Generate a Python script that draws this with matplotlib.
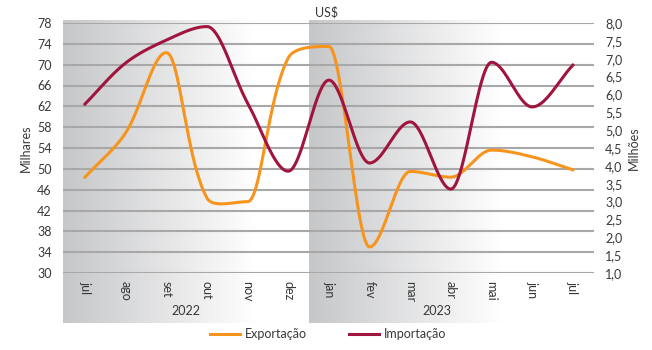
import numpy as np
import matplotlib
matplotlib.use("Agg")
import matplotlib.pyplot as plt
from matplotlib.colors import LinearSegmentedColormap

# Dados
meses = ["jul", "ago", "set", "out", "nov", "dez", "jan", "fev", "mar", "abr", "mai", "jun", "jul"]
anos = ["2022", "2023"]
exportacao = [48.4, 56.9, 72.3, 44.4, 43.7, 71.3, 73.5, 35.0, 49.5, 48.4, 53.6, 52.3, 49.8]  # milhares
importacao = [5.73, 6.88, 7.52, 7.9, 5.76, 3.85, 6.4, 4.08, 5.23, 3.35, 6.9, 5.65, 6.82]   # milhões

cor_exp = "#F7941D"
cor_imp = "#A0153E"
cor_txt = "#383838"
plt.rcParams["font.family"] = ["Lato", "DejaVu Sans"]


def suavizar(y, sx, sy, n=40):
    # curva de Bézier: alças proporcionais ao comprimento dos segmentos e
    # tangente horizontal nos picos e vales; calculada em escala de pixels
    P = np.column_stack([np.arange(len(y)) * sx, np.asarray(y, float) * sy])
    m = len(P)
    dist = np.linalg.norm(np.diff(P, axis=0), axis=1)
    h_in = np.zeros_like(P)
    h_out = np.zeros_like(P)
    for i in range(m):
        pa = P[i - 1] if i > 0 else P[i]
        pb = P[i + 1] if i + 1 < m else P[i]
        d0 = dist[i - 1] if i > 0 else 0
        d1 = dist[i] if i < m - 1 else 0
        extremo = 0 < i < m - 1 and (P[i, 1] - pa[1]) * (pb[1] - P[i, 1]) < 0
        if extremo:
            h_in[i] = [-sx / 3, 0]
            h_out[i] = [sx / 3, 0]
        else:
            T = pb - pa
            h_in[i] = -T * d0 / (d0 + d1) / 3
            h_out[i] = T * d1 / (d0 + d1) / 3
    out = []
    for i in range(m - 1):
        a, b = P[i], P[i + 1]
        c1 = a + h_out[i]
        c2 = b + h_in[i + 1]
        t = np.linspace(0, 1, n, endpoint=False)[:, None]
        out.append((1 - t) ** 3 * a + 3 * (1 - t) ** 2 * t * c1 + 3 * (1 - t) * t ** 2 * c2 + t ** 3 * b)
    out.append(P[-1:])
    out = np.vstack(out)
    return out[:, 0] / sx, out[:, 1] / sy


W, H = 652, 350
fig = plt.figure(figsize=(W / 100, H / 100), dpi=100)

x0, x1 = -0.54, 12.52
esq, dir_ = 63, 594
px_mes = (dir_ - esq) / (x1 - x0)

# fundo com gradiente, um painel por ano
ax_bg = fig.add_axes([esq / W, 1 - 323 / H, (dir_ - esq) / W, (323 - 20) / H], zorder=0)
ax_bg.set_xlim(x0, x1)
ax_bg.set_ylim(0, 1)
ax_bg.axis("off")
cmap = LinearSegmentedColormap.from_list("g", ["#C6C7C9", "#FFFFFF"])
for a, b, frac in [(x0, 5.52, 0.78), (5.52, x1, 0.68)]:
    grad = np.clip(np.linspace(0, 1, 256) / frac, 0, 1)[None, :]
    ax_bg.imshow(grad, extent=[a, b, 0, 1], aspect="auto", cmap=cmap, vmin=0, vmax=1)

ax = fig.add_axes([esq / W, 1 - 273 / H, (dir_ - esq) / W, (273 - 23) / H], zorder=2)
ax.patch.set_alpha(0)
ax2 = ax.twinx()

ax.set_xlim(x0, x1)
ax.set_ylim(30, 78)
ax2.set_ylim(1.0, 8.0)

ax.set_yticks(np.arange(30, 79, 4))
ax2.set_yticks(np.arange(1.0, 8.01, 0.5))
ax2.set_yticklabels([f"{v:.1f}".replace(".", ",") for v in np.arange(1.0, 8.01, 0.5)])
for v in np.arange(30, 79, 4):
    ax.axhline(v, color="#A8A8A8", lw=1.5, zorder=1)

ax.set_xticks(range(len(meses)))
ax.set_xticklabels(meses, rotation=-90, va="top", ha="center")

for a in (ax, ax2):
    for s in a.spines.values():
        s.set_visible(False)
    a.tick_params(length=0, colors=cor_txt, labelsize=9)
ax.tick_params(axis="y", pad=8)
ax2.tick_params(axis="y", pad=8)
ax.tick_params(axis="x", pad=6)

xe, ye = suavizar(exportacao, px_mes, 250 / 48)
xi, yi = suavizar(importacao, px_mes, 250 / 7)
ax.plot(xe, ye, color=cor_exp, lw=2.2, zorder=3, label="Exportação")
ax2.plot(xi, yi, color=cor_imp, lw=2.2, zorder=3, label="Importação")

ax.set_ylabel("Milhares", color=cor_txt, fontsize=9, labelpad=4)
ax2.set_ylabel("Milhões", color=cor_txt, fontsize=9, labelpad=4)

fig.text(327 / W, 1 - 12 / H, "US$", ha="center", va="center", color=cor_txt, fontsize=9)
fig.text(186 / W, 1 - 311 / H, anos[0], ha="center", va="center", color=cor_txt, fontsize=9)
fig.text(437 / W, 1 - 311 / H, anos[1], ha="center", va="center", color=cor_txt, fontsize=9)

h1, l1 = ax.get_legend_handles_labels()
h2, l2 = ax2.get_legend_handles_labels()
fig.legend(h1 + h2, l1 + l2, loc="center", bbox_to_anchor=(328 / W, 1 - 334 / H), ncol=2,
           frameon=False, fontsize=9, handlelength=2.4, handletextpad=0.4,
           columnspacing=3.4, labelcolor=cor_txt)

fig.savefig("out.png", dpi=100)
